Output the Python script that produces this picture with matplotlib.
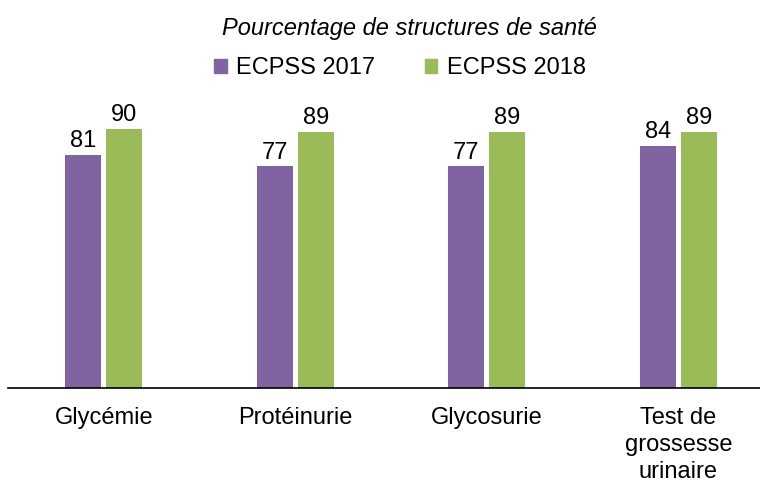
import numpy as np
import matplotlib.pyplot as plt
from matplotlib.patches import Patch

categories = ['Glycémie', 'Protéinurie', 'Glycosurie', 'Test de\ngrossesse\nurinaire']
ecpss_2017 = [81, 77, 77, 84]
ecpss_2018 = [90, 89, 89, 89]
series_names = ['ECPSS 2017', 'ECPSS 2018']

purple = '#8064A2'
green = '#9BBB59'

plt.rcParams['font.family'] = ['Liberation Sans', 'DejaVu Sans']

fig = plt.figure(figsize=(7.6, 4.82), dpi=100)
ax = fig.add_axes([8 / 760, 94 / 482, 752 / 760, 288 / 482])

x = np.arange(len(categories))
w = 0.19
b1 = ax.bar(x - 0.107, ecpss_2017, w, color=purple)
b2 = ax.bar(x + 0.107, ecpss_2018, w, color=green)

for bars in (b1, b2):
    for r in bars:
        ax.text(r.get_x() + r.get_width() / 2, r.get_height() + 0.9, str(int(r.get_height())),
                ha='center', va='bottom', fontsize=17)

ax.set_xlim(-0.5, -0.5 + 752 / 191.5)
ax.set_ylim(0, 100)
ax.set_yticks([])
ax.set_xticks(x)
ax.set_xticklabels(categories, fontsize=17, linespacing=1.28)
ax.tick_params(axis='x', length=0, pad=14)
for s in ['top', 'right', 'left']:
    ax.spines[s].set_visible(False)
ax.spines['bottom'].set_linewidth(1.2)

fig.text(409 / 760, 1 - 28 / 482, 'Pourcentage de structures de santé', ha='center', va='center',
         fontsize=17, style='italic')

handles = [Patch(color=purple), Patch(color=green)]
fig.legend(handles, series_names, loc='center', bbox_to_anchor=(400 / 760, 1 - 68 / 482),
           ncol=2, frameon=False, fontsize=17, handlelength=0.52, handleheight=0.52,
           handletextpad=0.4, columnspacing=2.1, borderpad=0)

fig.savefig('out.png', dpi=100)
